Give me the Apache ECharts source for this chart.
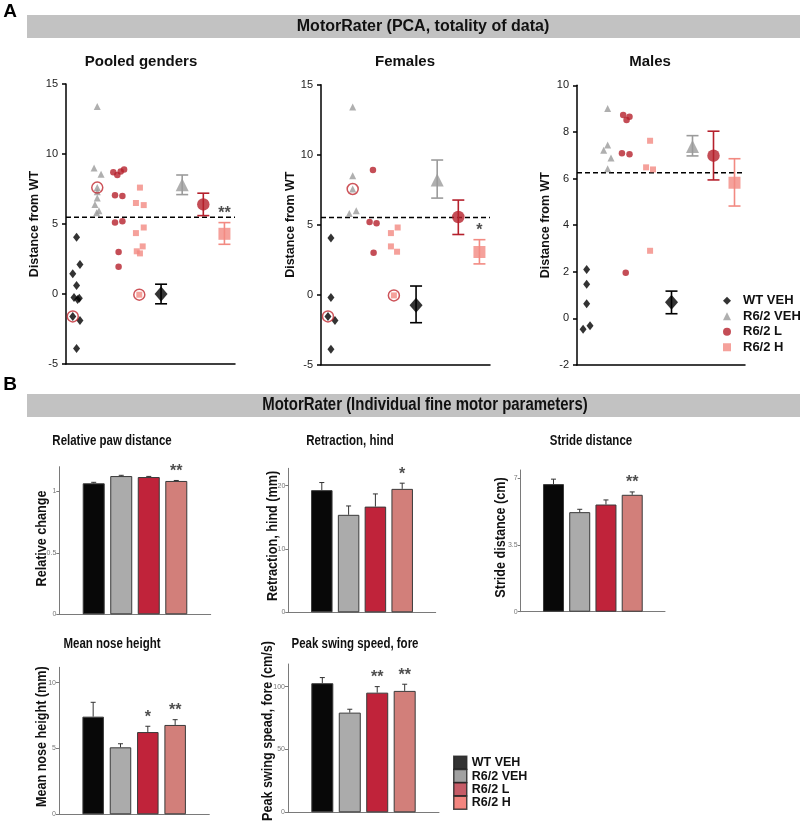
<!DOCTYPE html>
<html><head><meta charset="utf-8">
<script src="https://cdn.jsdelivr.net/npm/echarts@6/dist/echarts.min.js"></script>
<style>html,body{margin:0;padding:0;background:#fff}#c{width:800px;height:822px}</style>
</head><body><div id="c"></div>
<script>
// ================= DATA =================
const GROUPS = ['WT VEH', 'R6/2 VEH', 'R6/2 L', 'R6/2 H'];
const MEAN_X = [5, 6, 7, 8];           // x slots of the group means

// --- Panel A: Pooled genders: individual points [x slot with jitter, distance] ---
const pooledWT  = [[1.0,4.05],[1.16,2.1],[0.82,1.45],[1.0,0.6],[0.88,-0.25],[1.05,-0.4],[1.13,-0.3],[0.82,-1.6],[1.16,-1.9],[1.0,-3.9]];
const pooledVEH = [[1.98,13.4],[1.83,9.0],[2.16,8.55],[1.98,7.6],[1.98,7.3],[1.98,6.85],[1.87,6.4],[2.06,5.95],[1.95,5.8]];
const pooledL   = [[2.74,8.7],[2.93,8.5],[3.09,8.75],[3.25,8.9],[2.82,7.05],[3.17,7.0],[2.82,5.1],[3.17,5.2],[2.99,3.0],[2.99,1.95]];
const pooledH   = [[4.0,7.6],[3.81,6.5],[4.18,6.35],[4.18,4.75],[3.81,4.35],[4.13,3.4],[3.85,3.05],[4.0,2.9],[3.97,-0.05]];
const pooledMean = [0, 7.8, 6.4, 4.3];
const pooledLo   = [-0.7, 7.1, 5.6, 3.55];
const pooledHi   = [0.7, 8.5, 7.2, 5.1];
const pooledStars = ['', '', '', '**'];
const pooledRef = 5.48;
const pooledRings = [[0, 7], [1, 3], [3, 8]];   // [group, point index]

// --- Females ---
const femWT  = [[0.97,4.05],[0.97,-0.2],[0.83,-1.55],[1.16,-1.85],[0.97,-3.9]];
const femVEH = [[2.0,13.4],[2.0,8.5],[2.0,7.55],[1.84,5.8],[2.17,6.0]];
const femL   = [[2.96,8.9],[2.8,5.2],[3.13,5.1],[2.99,3.0]];
const femH   = [[4.13,4.8],[3.81,4.4],[3.81,3.45],[4.1,3.07],[3.95,-0.05]];
const femMean = [-0.75, 8.2, 5.55, 3.05];
const femLo   = [-2.0, 6.9, 4.3, 2.2];
const femHi   = [0.62, 9.62, 6.76, 3.93];
const femStars = ['', '', '', '*'];
const femRef = 5.52;
const femRings = [[0, 2], [1, 2], [3, 4]];

// --- Males ---
const maleWT  = [[0.96,2.1],[0.96,1.46],[0.96,0.63],[0.79,-0.47],[1.12,-0.32]];
const maleVEH = [[1.96,9.0],[1.96,7.44],[1.77,7.21],[2.12,6.88],[1.96,6.42]];
const maleL   = [[2.7,8.73],[2.86,8.51],[3.0,8.65],[2.64,7.08],[3.0,7.04],[2.82,1.96]];
const maleH   = [[3.98,7.62],[3.79,6.48],[4.12,6.39],[3.98,2.9]];
const maleMean = [0.69, 7.37, 6.98, 5.82];
const maleLo   = [0.2, 6.97, 5.94, 4.82];
const maleHi   = [1.17, 7.84, 8.03, 6.85];
const maleStars = ['', '', '', ''];
const maleRef = 6.25;
const maleRings = [];

// --- Panel B: bar means, SEM, significance ---
const pawMean = [1.065, 1.124, 1.116, 1.084];
const pawErr  = [0.008, 0.006, 0.005, 0.004];
const pawStars = ['', '', '', '**'];
const pawTicks = [0, 0.5, 1];

const retrMean = [19.3, 15.4, 16.7, 19.5];
const retrErr  = [1.2, 1.4, 2.0, 0.9];
const retrStars = ['', '', '', '*'];
const retrTicks = [0, 10, 20];

const strideMean = [6.69, 5.22, 5.62, 6.13];
const strideErr  = [0.26, 0.15, 0.24, 0.15];
const strideStars = ['', '', '', '**'];
const strideTicks = [0, 3.5, 7];

const noseMean = [7.42, 5.09, 6.25, 6.79];
const noseErr  = [1.09, 0.27, 0.44, 0.40];
const noseStars = ['', '', '*', '**'];
const noseTicks = [0, 5, 10];

const peakMean = [102.7, 79.3, 95.2, 96.6];
const peakErr  = [4.5, 2.7, 4.8, 5.3];
const peakStars = ['', '', '**', '**'];
const peakTicks = [0, 50, 100];

// ================= STYLE =================
const FONT = '"Liberation Sans", Arial, Helvetica, sans-serif';
const NARROW_SCALE = 0.82;   // emulate a narrow (condensed) face
const PT_COLORS = ['#000000', '#9b9b9b', '#b5202c', '#f28a82'];
const SYM = ['diamond', 'triangle', 'circle', 'rect'];
const IND_SIZE = [[7,9], 7, 6.5, 6];
const MEAN_SIZE = [[13,15], 13, 12.5, 12];
const BAR_COLORS = ['#080808', '#ababab', '#c0233a', '#d27f7a'];
const LEG_B_COLORS = ['#000000', '#8a8a8a', '#b83341', '#f0675f'];

const grids = [], xAxes = [], yAxes = [], series = [];

function errRenderer(cap, width, colorFn, upOnly) {
  return function (params, api) {
    const x = api.value(0), lo = api.value(1), hi = api.value(2), k = api.value(3);
    const pLo = api.coord([x, lo]), pHi = api.coord([x, hi]);
    const st = { stroke: colorFn(k), lineWidth: width };
    const h = cap / 2;
    const children = [
      { type: 'line', shape: { x1: pLo[0], y1: pLo[1], x2: pHi[0], y2: pHi[1] }, style: st },
      { type: 'line', shape: { x1: pHi[0] - h, y1: pHi[1], x2: pHi[0] + h, y2: pHi[1] }, style: st }
    ];
    if (!upOnly) children.push({ type: 'line', shape: { x1: pLo[0] - h, y1: pLo[1], x2: pLo[0] + h, y2: pLo[1] }, style: st });
    return { type: 'group', children };
  };
}

function scatterPanel(g, ind, mean, lo, hi, stars, ref, rings, yMin, yMax, yInt, nameGap) {
  const gi = grids.length;
  grids.push({ left: g[0], top: g[1], width: g[2], height: g[3], outerBoundsMode: 'none' });
  xAxes.push({ gridIndex: gi, type: 'value', min: 0.5, max: 8.5,
    axisLine: { show: true, onZero: false, lineStyle: { color: '#000', width: 1.5 } },
    axisTick: { show: false }, axisLabel: { show: false }, splitLine: { show: false } });
  yAxes.push({ gridIndex: gi, type: 'value', min: yMin, max: yMax, interval: yInt,
    axisLine: { show: true, onZero: false, lineStyle: { color: '#000', width: 1.5 } },
    axisTick: { show: true, length: 4, lineStyle: { color: '#000', width: 1.5 } },
    axisLabel: { fontSize: 11, color: '#222', margin: 8, fontFamily: FONT },
    splitLine: { show: false },
    name: 'Distance from WT', nameLocation: 'middle', nameGap: nameGap,
    nameTextStyle: { fontFamily: FONT, fontWeight: 'bold', fontSize: 12.5, color: '#111' } });
  const common = { xAxisIndex: gi, yAxisIndex: gi, silent: true, animation: false };
  ind.forEach((d, k) => series.push(Object.assign({ type: 'scatter', name: GROUPS[k], data: d,
    symbol: SYM[k], symbolSize: IND_SIZE[k], itemStyle: { color: PT_COLORS[k] }, z: 3 }, common)));
  series.push(Object.assign({ type: 'line', data: [[0.5, ref], [8.5, ref]], symbol: 'none',
    lineStyle: { type: [5, 3], color: '#000', width: 1.5 }, z: 2 }, common));
  series.push(Object.assign({ type: 'custom', data: mean.map((m, k) => [MEAN_X[k], lo[k], hi[k], k]),
    renderItem: errRenderer(12, 1.6, k => PT_COLORS[k], false), z: 4 }, common));
  series.push(Object.assign({ type: 'scatter', z: 5,
    data: mean.map((m, k) => ({ value: [MEAN_X[k], m], symbol: SYM[k], symbolSize: MEAN_SIZE[k], itemStyle: { color: PT_COLORS[k] } })) }, common));
  if (rings.length) series.push(Object.assign({ type: 'scatter', z: 6, symbol: 'circle', symbolSize: 11,
    data: rings.map(([k, i]) => ind[k][i]),
    itemStyle: { color: 'rgba(0,0,0,0)', borderColor: '#c0282f', borderWidth: 1.5 } }, common));
  const st = stars.map((s, k) => s ? { value: [MEAN_X[k], hi[k]], label: { formatter: s } } : null).filter(Boolean);
  if (st.length) series.push(Object.assign({ type: 'scatter', z: 6, symbolSize: 0, data: st,
    label: { show: true, position: 'top', distance: 1, fontSize: 16, fontWeight: 'bold', color: '#222', fontFamily: FONT } }, common));
}

function barPanel(g, means, errs, stars, yMax, ticks, barW) {
  const gi = grids.length;
  grids.push({ left: g[0], top: g[1], width: g[2], height: g[3], outerBoundsMode: 'none' });
  xAxes.push({ gridIndex: gi, type: 'value', min: -1.25, max: 4.25,
    axisLine: { show: true, onZero: false, lineStyle: { color: '#7a7a7a', width: 1 } },
    axisTick: { show: false }, axisLabel: { show: false }, splitLine: { show: false } });
  yAxes.push({ gridIndex: gi, type: 'value', min: 0, max: yMax,
    axisLine: { show: true, onZero: false, lineStyle: { color: '#7a7a7a', width: 1 } },
    axisTick: { show: true, length: 3, customValues: ticks, lineStyle: { color: '#7a7a7a' } },
    axisLabel: { customValues: ticks, fontSize: 7, color: '#777', margin: 3, fontFamily: FONT },
    splitLine: { show: false } });
  const common = { xAxisIndex: gi, yAxisIndex: gi, silent: true, animation: false };
  series.push(Object.assign({ type: 'bar', barWidth: barW, z: 2,
    data: means.map((v, k) => ({ value: [k, v], itemStyle: { color: BAR_COLORS[k] } })),
    itemStyle: { borderColor: '#3a3a3a', borderWidth: 1 } }, common));
  series.push(Object.assign({ type: 'custom', z: 3, data: means.map((v, k) => [k, v, v + errs[k], k]),
    renderItem: errRenderer(5, 1, k => '#333', true) }, common));
  const st = stars.map((s, k) => s ? { value: [k, means[k] + errs[k]], label: { formatter: s } } : null).filter(Boolean);
  if (st.length) series.push(Object.assign({ type: 'scatter', z: 6, symbolSize: 0, data: st,
    label: { show: true, position: 'top', distance: 1, fontSize: 16, fontWeight: 'bold', color: '#222', fontFamily: FONT } }, common));
}

scatterPanel([66, 84, 169, 280], [pooledWT, pooledVEH, pooledL, pooledH], pooledMean, pooledLo, pooledHi, pooledStars, pooledRef, pooledRings, -5, 15, 5, 25);
scatterPanel([321, 84.7, 169, 280], [femWT, femVEH, femL, femH], femMean, femLo, femHi, femStars, femRef, femRings, -5, 15, 5, 23);
scatterPanel([577, 85.3, 168, 279.7], [maleWT, maleVEH, maleL, maleH], maleMean, maleLo, maleHi, maleStars, maleRef, maleRings, -2, 10, 2, 25);

barPanel([59.3, 466.7, 151.4, 147.6], pawMean, pawErr, pawStars, 1.2, pawTicks, 22);
barPanel([288.3, 468.3, 147.4, 144], retrMean, retrErr, retrStars, 22.75, retrTicks, 21.5);
barPanel([520.7, 470, 144.3, 141.7], strideMean, strideErr, strideStars, 7.43, strideTicks, 21);
barPanel([59, 667.3, 150.3, 147], noseMean, noseErr, noseStars, 11.17, noseTicks, 21.5);
barPanel([288, 664, 151, 148.3], peakMean, peakErr, peakStars, 118, peakTicks, 22);

function txt(x, y, text, font, opts) {
  opts = opts || {};
  return { type: 'text', x: x, y: y, silent: true, rotation: opts.rot || 0, scaleX: opts.sx || 1,
    style: { text: text, font: font, fill: opts.fill || '#111', align: 'center', verticalAlign: 'middle', textAlign: 'center', textVerticalAlign: 'middle' } };
}
const NB = { sx: NARROW_SCALE };
const NBR = { sx: 0.9, rot: Math.PI / 2 };

const graphics = [
  { type: 'rect', shape: { x: 27, y: 15, width: 773, height: 23 }, style: { fill: '#c2c2c2' }, silent: true, z: -1 },
  { type: 'rect', shape: { x: 27, y: 394, width: 773, height: 23 }, style: { fill: '#c2c2c2' }, silent: true, z: -1 },
  txt(10, 12, 'A', 'bold 19px ' + FONT, { fill: '#000' }),
  txt(10, 385, 'B', 'bold 19px ' + FONT, { fill: '#000' }),
  txt(423, 27, 'MotorRater (PCA, totality of data)', 'bold 16px ' + FONT),
  txt(425, 405, 'MotorRater (Individual fine motor parameters)', 'bold 18px ' + FONT, { sx: 0.83 }),
  txt(141, 62, 'Pooled genders', 'bold 15px ' + FONT),
  txt(405, 62, 'Females', 'bold 15px ' + FONT),
  txt(650, 62, 'Males', 'bold 15px ' + FONT),
  txt(112, 441, 'Relative paw distance', 'bold 14px ' + FONT, NB),
  txt(350, 441, 'Retraction, hind', 'bold 14px ' + FONT, NB),
  txt(591, 441, 'Stride distance', 'bold 14px ' + FONT, NB),
  txt(112, 644, 'Mean nose height', 'bold 14px ' + FONT, NB),
  txt(355, 644, 'Peak swing speed, fore', 'bold 14px ' + FONT, NB),
  // y-axis titles of panel B (rotated)
  txt(42, 538.5, 'Relative change', 'bold 14px ' + FONT, NBR),
  txt(273, 536, 'Retraction, hind (mm)', 'bold 14px ' + FONT, NBR),
  txt(501, 537.5, 'Stride distance (cm)', 'bold 14px ' + FONT, NBR),
  txt(42, 736.7, 'Mean nose height (mm)', 'bold 14px ' + FONT, NBR),
  txt(268, 731, 'Peak swing spead, fore (cm/s)', 'bold 14px ' + FONT, NBR)
];

const chart = echarts.init(document.getElementById('c'), null, { renderer: 'canvas' });
chart.setOption({
  animation: false,
  backgroundColor: '#fff',
  grid: grids, xAxis: xAxes, yAxis: yAxes, series: series,
  graphic: { elements: graphics },
  legend: [
    { orient: 'vertical', left: 723, top: 294, padding: 0, itemWidth: 8, itemHeight: 8, itemGap: 2,
      selectedMode: false,
      textStyle: { fontFamily: FONT, fontWeight: 'bold', fontSize: 13, color: '#111', lineHeight: 13.5, padding: [0, 0, 0, 7] },
      data: GROUPS.map((n, k) => ({ name: n, icon: SYM[k], itemStyle: { color: PT_COLORS[k], borderWidth: 0 } })) },
    { orient: 'vertical', left: 453, top: 755.5, padding: 0, itemWidth: 13, itemHeight: 13, itemGap: -1.2,
      selectedMode: false,
      textStyle: { fontFamily: FONT, fontWeight: 'bold', fontSize: 12.5, color: '#111', lineHeight: 13 },
      data: GROUPS.map((n, k) => ({ name: n, icon: 'rect', itemStyle: { color: LEG_B_COLORS[k], borderColor: '#222', borderWidth: 1.5 } })) }
  ]
});
</script></body></html>
